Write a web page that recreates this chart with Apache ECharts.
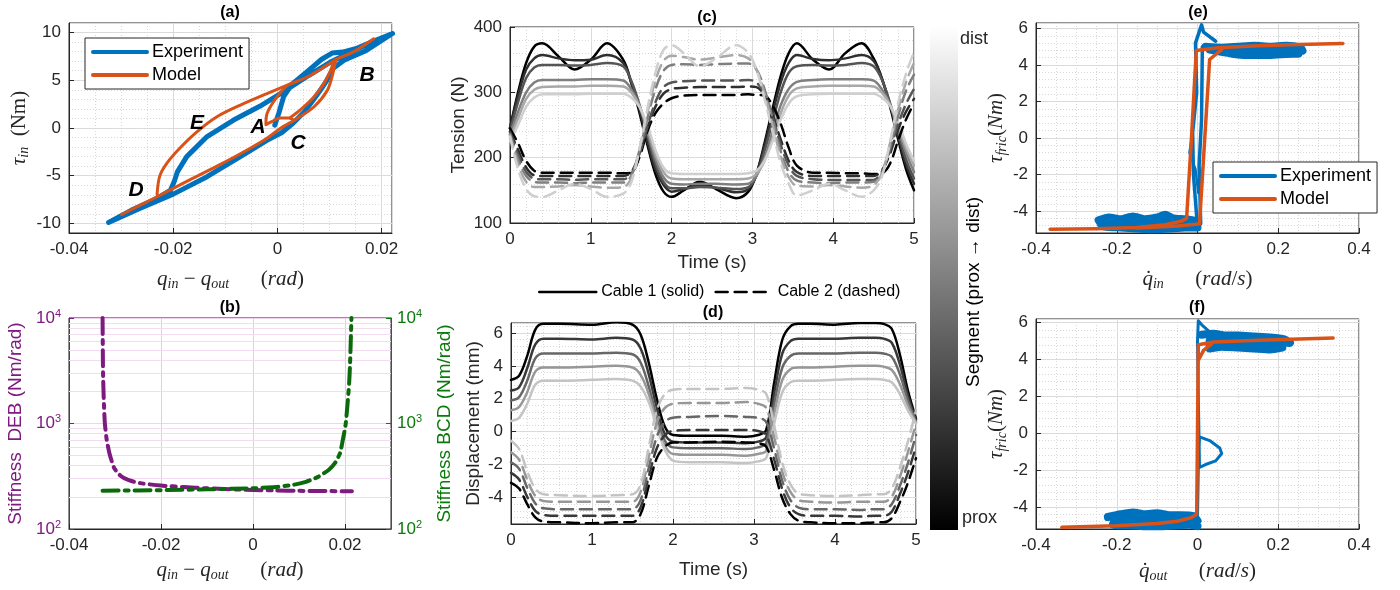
<!DOCTYPE html>
<html>
<head>
<meta charset="utf-8">
<script src="https://cdn.jsdelivr.net/npm/echarts@6/dist/echarts.min.js"></script>
<style>html,body{margin:0;padding:0;background:#fff}#main{width:1400px;height:590px}</style>
</head>
<body>
<div id="main"></div>
<script>
var SANS = 'Liberation Sans, Arial, sans-serif';
var SERIF = 'Liberation Serif, DejaVu Serif, serif';
var INK = '#262626';
var BLUE = '#0072BD', ORANGE = '#D95319';
var PURPLE = '#7E1A80', GREEN = '#0A7A0A';

// (a) hysteresis loop: [q_in - q_out, tau_in]
var expA = [[-0.0005,0.3],[0.0003,1.6],[0.0012,3.3],[0.0028,4.6],[0.0057,5.9],[0.0085,7.2],[0.0105,7.85],[0.0125,7.95],[0.015,8.3],[0.0185,9.1],[0.0221,9.9],
  [0.017,8.1],[0.0128,7.1],[0.0108,6.3],[0.0095,5.0],[0.0083,4.0],[0.007,3.0],[0.0052,1.7],[0.003,0.5],[0.0008,-0.5],[-0.002,-1.3],[-0.0071,-3.0],
  [-0.0135,-5.1],[-0.0199,-6.9],[-0.0263,-8.4],[-0.0324,-9.9],[-0.028,-8.6],[-0.0235,-7.5],[-0.0205,-6.5],[-0.0198,-5.6],[-0.0192,-4.6],
  [-0.0174,-3.0],[-0.0135,-0.9],[-0.0084,0.83],[-0.0033,2.3],[0.0012,3.8],[0.006,5.5],[0.0105,7.0],[0.015,8.2],[0.0221,9.9]];
var modelAUpper = [[-0.0231,-6.98],[-0.0226,-5.07],[-0.0212,-3.68],[-0.0187,-2.1],[-0.0154,-0.38],[-0.0116,1.18],[-0.0071,2.4],[-0.002,3.6],
  [0.0019,4.48],[0.0063,5.5],[0.0112,7.15],[0.0147,8.0],[0.0185,9.34]];
var modelALower = [[-0.0299,-9.06],[-0.0231,-7.2],[-0.0174,-5.6],[-0.0116,-4.0],[-0.0058,-2.3],[-0.002,-1.07],[0.0006,-0.03],[0.0038,1.0],
  [0.007,2.2],[0.0096,3.96],[0.0106,5.6],[0.0112,7.15]];
var modelAInner = [[0.0108,7.0],[0.0102,6.0],[0.0089,4.65],[0.007,3.26],[0.0044,1.9],[0.0025,1.1]];
var modelAHook = [[0.0019,4.48],[-0.0001,3.26],[-0.002,1.5],[-0.0022,0.35],[-0.001,0.7],[0.0005,1.05],[0.0022,1.05],[0.0032,0.8]];

// (b) stiffness, log scale
var stiffDEB = [[-0.0327,10000],[-0.0326,3000],[-0.0324,1500],[-0.0322,1000],[-0.0318,700],[-0.0312,520],[-0.0302,380],[-0.0288,320],[-0.027,290],
  [-0.0245,272],[-0.02,258],[-0.015,250],[-0.01,243],[-0.005,238],[0,234],[0.005,232],[0.01,230],[0.015,229],[0.0215,228]];
var stiffBCD = [[-0.0327,231],[-0.025,232],[-0.0187,234],[-0.01,238],[-0.0001,243],[0.005,250],[0.0085,261],[0.0115,280],[0.0142,313],[0.0165,365],
  [0.0178,420],[0.0189,520],[0.0195,690],[0.0201,950],[0.0205,1440],[0.0209,2400],[0.0211,3700],[0.0214,10000]];
var logMinor = [200,300,400,500,600,700,800,900,2000,3000,4000,5000,6000,7000,8000,9000];

// (c) tension, 6 segments prox -> dist
var tc = [0,0.1,0.2,0.3,0.4,0.6,0.8,1.0,1.2,1.4,1.5,1.6,1.7,1.8,1.9,2.0,2.15,2.35,2.55,2.8,2.95,3.05,3.15,3.25,3.35,3.45,3.55,3.75,3.95,4.15,4.35,4.5,4.6,4.7,4.8,4.9,5.0];
var cable1Tension = [
  [245,300,345,370,375,355,335,350,375,350,315,270,220,175,148,140,150,163,152,138,148,175,222,275,325,360,375,350,335,360,375,352,322,280,230,183,150],
  [245,295,335,352,357,352,349,350,357,345,315,275,225,182,158,148,152,158,154,147,152,175,218,268,315,345,357,351,349,352,357,348,322,283,235,190,160],
  [240,285,322,338,342,342,341,342,345,340,318,282,235,190,163,153,153,155,154,152,155,172,210,255,300,330,340,342,341,342,345,340,320,285,240,198,168],
  [235,270,300,315,319,319,319,320,320,318,305,280,240,198,170,160,159,160,160,159,160,172,200,240,280,305,316,319,320,320,320,318,305,282,245,208,178],
  [230,260,290,304,308,309,309,310,310,309,300,280,245,205,178,168,167,167,167,167,168,175,195,230,268,295,306,309,310,310,310,309,300,282,250,215,188],
  [225,250,278,292,297,297,297,298,298,298,292,278,250,212,185,176,175,175,175,175,176,180,195,225,258,283,294,297,298,298,298,298,292,280,255,222,195]
];
var cable2Tension = [
  [245,222,195,180,177,177,177,177,177,176,177,200,240,268,283,291,295,296,296,296,297,296,295,280,252,215,188,177,177,176,176,175,176,190,225,258,283],
  [240,212,185,173,172,172,172,172,172,172,178,205,245,278,298,305,307,308,308,308,309,308,295,265,228,195,178,172,172,172,172,172,180,205,242,270,290],
  [238,205,178,168,167,167,166,167,167,167,175,205,248,285,308,315,317,318,318,318,319,315,298,262,220,188,172,167,166,166,166,166,178,210,250,282,305],
  [236,198,172,163,162,162,161,162,162,162,172,210,260,305,333,342,343,342,343,344,344,335,305,260,210,178,165,162,161,162,162,163,175,215,262,302,327],
  [234,190,163,155,155,156,158,156,154,155,168,212,268,318,348,356,354,350,353,357,352,335,298,250,202,170,157,156,158,156,154,158,175,220,272,315,345],
  [232,182,152,141,140,150,160,152,140,145,162,212,275,330,365,372,360,340,352,372,360,335,290,240,192,160,142,150,160,150,140,150,170,222,282,328,362]
];
var grayC = ['#000000','#2f2f2f','#555555','#7f7f7f','#a8a8a8','#cfcfcf'];

// (d) displacement, 5 segments prox -> dist
var td = [0,0.1,0.2,0.3,0.4,0.6,1.0,1.3,1.5,1.6,1.7,1.8,1.9,2.0,2.2,2.6,2.9,3.05,3.15,3.25,3.35,3.45,3.55,3.7,4.0,4.3,4.5,4.6,4.7,4.8,4.9,5.0];
var cable1Disp = [
  [3.15,3.4,4.6,6.2,6.55,6.55,6.5,6.65,6.5,5.9,4.2,2.0,0.3,-0.2,-0.25,-0.25,-0.3,-0.2,0.1,3.0,5.6,6.4,6.55,6.55,6.5,6.6,6.6,6.55,6.25,4.7,2.5,0.8],
  [2.5,2.7,3.85,5.3,5.65,5.65,5.6,5.7,5.6,5.05,3.5,1.45,-0.15,-0.6,-0.65,-0.65,-0.7,-0.6,-0.35,2.35,4.75,5.5,5.65,5.65,5.65,5.7,5.7,5.65,5.4,4.1,2.2,0.7],
  [1.9,2.1,3.1,4.45,4.75,4.75,4.75,4.8,4.7,4.2,2.75,0.9,-0.55,-0.95,-1.0,-1.0,-1.05,-0.95,-0.7,1.7,3.9,4.6,4.75,4.75,4.75,4.8,4.8,4.75,4.55,3.5,1.9,0.6],
  [1.3,1.5,2.4,3.65,3.9,3.9,3.95,4.0,3.9,3.45,2.3,0.5,-0.85,-1.35,-1.4,-1.4,-1.45,-1.35,-1.15,1.1,3.15,3.8,3.9,3.9,3.95,4.0,4.0,3.95,3.75,2.9,1.6,0.55],
  [0.65,0.85,1.7,2.85,3.1,3.1,3.15,3.2,3.1,2.75,1.8,0.3,-1.1,-1.75,-1.85,-1.85,-1.9,-1.8,-1.6,0.5,2.4,3.0,3.1,3.1,3.15,3.2,3.2,3.15,3.0,2.3,1.3,0.5]
];
var cable2Disp = [
  [-3.1,-3.45,-4.4,-5.2,-5.45,-5.5,-5.55,-5.5,-5.5,-5.0,-3.3,-1.6,-0.9,-0.65,-0.65,-0.6,-0.65,-0.7,-0.9,-2.35,-4.05,-5.0,-5.4,-5.5,-5.55,-5.55,-5.5,-5.5,-5.25,-4.3,-3.1,-1.6],
  [-2.5,-2.9,-3.95,-4.8,-5.05,-5.1,-5.1,-5.1,-5.1,-4.6,-2.75,-1.0,-0.2,0.05,0.1,0.1,0.1,0.05,-0.2,-1.7,-3.5,-4.6,-5.0,-5.1,-5.1,-5.15,-5.1,-5.1,-4.85,-3.8,-2.5,-0.9],
  [-1.85,-2.25,-3.4,-4.35,-4.65,-4.7,-4.7,-4.7,-4.7,-4.15,-2.2,-0.3,0.6,0.85,0.9,0.95,0.9,0.85,0.6,-1.05,-3.0,-4.15,-4.6,-4.7,-4.7,-4.75,-4.7,-4.7,-4.4,-3.3,-1.9,-0.2],
  [-1.25,-1.7,-2.9,-3.9,-4.2,-4.25,-4.25,-4.25,-4.25,-3.65,-1.55,0.55,1.45,1.7,1.75,1.75,1.8,1.7,1.45,-0.35,-2.45,-3.65,-4.15,-4.25,-4.3,-4.25,-4.25,-4.25,-3.95,-2.75,-1.25,0.5],
  [-0.55,-1.05,-2.4,-3.45,-3.8,-3.85,-3.9,-3.85,-3.8,-3.2,-0.95,1.3,2.3,2.55,2.6,2.6,2.65,2.55,2.3,0.35,-1.9,-3.2,-3.75,-3.85,-3.9,-3.85,-3.8,-3.8,-3.45,-2.2,-0.6,1.3]
];
var grayD = ['#000000','#383838','#676767','#979797','#c4c4c4'];

// (e) friction vs input velocity: dense noisy clusters + thin traces
var expEClusterLow = [[-0.245,-4.5],[-0.22,-4.35],[-0.19,-4.45],[-0.16,-4.3],[-0.13,-4.45],[-0.1,-4.35],[-0.08,-4.2],[-0.06,-4.4],[-0.03,-4.45],[-0.005,-4.55],
  [0.0,-4.7],[-0.04,-4.7],[-0.08,-4.65],[-0.12,-4.7],[-0.16,-4.65],[-0.2,-4.7],[-0.24,-4.7],
  [-0.23,-4.85],[-0.19,-4.9],[-0.15,-4.95],[-0.11,-5.0],[-0.07,-4.95],[-0.03,-4.9],[0.0,-4.9]];
var expEClusterHigh = [[0.02,5.0],[0.06,4.95],[0.1,5.0],[0.14,5.05],[0.18,5.0],[0.22,5.05],[0.255,4.95],
  [0.26,4.78],[0.22,4.8],[0.18,4.75],[0.14,4.8],[0.1,4.78],[0.06,4.8],[0.03,4.85],
  [0.1,4.58],[0.14,4.55],[0.18,4.55],[0.22,4.6],[0.25,4.62]];
var expETrace1 = [[0.0,-4.9],[-0.01,-2.0],[-0.012,0.3],[-0.002,2.5],[-0.005,5.2],[0.01,6.2],[0.015,5.8],[0.045,5.3]];
var expETrace2 = [[0.012,5.0],[0.01,1.0],[0.004,-1.5],[0.008,-4.7]];
var expETrace3 = [[-0.012,0.3],[-0.02,-0.8],[-0.005,-1.7],[0.002,-3.0]];
var modelE1 = [[-0.365,-5.0],[-0.25,-4.97],[-0.15,-4.9],[-0.08,-4.75],[-0.04,-4.55],[-0.027,-4.4],[-0.015,0.0],[-0.003,4.8],[0.05,4.95],[0.15,5.05],[0.25,5.12],[0.36,5.18]];
var modelE2 = [[0.06,4.85],[0.03,4.3],[0.018,0.0],[0.005,-4.7],[-0.05,-4.82],[-0.15,-4.92]];

// (f) friction vs output velocity
var expFClusterLow = [[-0.222,-4.55],[-0.19,-4.4],[-0.16,-4.3],[-0.13,-4.4],[-0.1,-4.35],[-0.07,-4.45],[-0.04,-4.45],[-0.01,-4.5],
  [0.0,-4.75],[-0.04,-4.75],[-0.08,-4.7],[-0.12,-4.75],[-0.16,-4.7],[-0.2,-4.7],
  [-0.21,-4.95],[-0.17,-5.0],[-0.13,-5.05],[-0.09,-5.05],[-0.05,-5.0],[-0.02,-4.95],[0.0,-5.05]];
var expFClusterHigh = [[0.01,5.35],[0.04,5.4],[0.07,5.3],[0.1,5.3],[0.14,5.25],[0.18,5.2],[0.215,5.1],
  [0.229,4.9],[0.19,4.95],[0.15,4.95],[0.11,4.95],[0.07,5.0],[0.03,5.0],
  [0.03,4.6],[0.06,4.7],[0.1,4.65],[0.14,4.6],[0.18,4.55],[0.21,4.65]];
var expFTrace = [[0.0,-4.6],[0.002,-2.0],[0.005,-0.2],[0.03,-0.4],[0.055,-0.8],[0.06,-1.1],[0.045,-1.5],[0.02,-1.7],[0.005,-1.85],[0.002,2.0],
  [0.0,5.0],[0.002,6.1],[0.01,5.9],[0.03,5.5],[0.05,5.35]];
var modelF1 = [[-0.336,-5.11],[-0.2,-5.02],[-0.1,-4.9],[-0.05,-4.78],[-0.015,-4.58],[-0.002,-4.4],[0.0,0.0],[0.002,4.8],[0.04,4.95],[0.15,5.05],[0.336,5.17]];
var modelF2 = [[0.003,4.0],[0.015,4.5],[0.035,4.85]];

var chart = echarts.init(document.getElementById('main'));

var texRich = {
  m: { fontFamily: SERIF, fontStyle: 'italic', fontSize: 21, color: INK },
  n: { fontFamily: SERIF, fontSize: 21, color: INK },
  s: { fontFamily: SERIF, fontStyle: 'italic', fontSize: 14, color: INK, padding: [10, 0, 0, 0], verticalAlign: 'bottom' }
};
var supRich = function (c) {
  return {
    b: { fontFamily: SANS, fontSize: 17, color: c },
    p: { fontFamily: SANS, fontSize: 11, color: c, padding: [0, 0, 9, 0], verticalAlign: 'top' }
  };
};

function valAxis(o) {
  return {
    type: 'value', gridIndex: o.grid, min: o.min, max: o.max, interval: o.interval, splitNumber: o.splitNumber || 5,
    position: o.position,
    axisLine: { show: true, onZero: false, lineStyle: { color: INK, width: 1 } },
    axisTick: { show: true, inside: true, length: 5, lineStyle: { color: INK } },
    axisLabel: { color: INK, fontSize: 17, fontFamily: SANS, margin: 8, showMinLabel: !o.hideMin, showMaxLabel: !o.hideMax },
    splitLine: { show: true, lineStyle: { color: '#dcdcdc', width: 1 } },
    name: o.name, nameLocation: 'middle', nameGap: o.nameGap,
    nameTextStyle: o.nameStyle || { color: INK, fontSize: 19, fontFamily: SANS }
  };
}
function minorAxis(grid, min, max, step, pos) {
  return {
    type: 'value', gridIndex: grid, min: min, max: max, interval: step, position: pos,
    axisLine: { show: false }, axisTick: { show: false }, axisLabel: { show: false },
    splitLine: { show: true, lineStyle: { color: '#d8d8d8', width: 1, type: [1, 2] } }
  };
}
function line(name, data, xi, yi, color, width, type, smooth, z) {
  return {
    type: 'line', name: name, data: data, xAxisIndex: xi, yAxisIndex: yi, symbol: 'none',
    smooth: smooth || false, lineStyle: { color: color, width: width, type: type || 'solid', cap: 'round', join: 'round' },
    itemStyle: { color: color }, z: z || 3, animation: false
  };
}
function pair(ts, vs) { return ts.map(function (t, i) { return [t, vs[i]]; }); }

var texQ = '{m|q}{s|in}{n| − }{m|q}{s|out}{n|      (}{m|rad}{n|)}';
var texTauIn = '{m|τ}{s|in}{n|  (Nm)}';
var texTauFric = '{m|τ}{s|fric}{n|(}{m|Nm}{n|)}';

var xAxes = [
  valAxis({ grid: 0, min: -0.04, max: 0.022, interval: 0.02, hideMax: true, name: texQ, nameGap: 34, nameStyle: { rich: texRich } }),
  minorAxis(0, -0.04, 0.022, 0.005, 'top'),
  valAxis({ grid: 1, min: -0.04, max: 0.03, interval: 0.02, hideMax: true, name: texQ, nameGap: 29, nameStyle: { rich: texRich } }),
  valAxis({ grid: 2, min: 0, max: 5, interval: 1, name: 'Time (s)', nameGap: 30 }),
  minorAxis(2, 0, 5, 0.2, 'top'),
  valAxis({ grid: 3, min: 0, max: 5, interval: 1, name: 'Time (s)', nameGap: 36 }),
  minorAxis(3, 0, 5, 0.2, 'top'),
  valAxis({ grid: 4, min: -0.4, max: 0.4, interval: 0.2, name: '{m|q\u0307}{s|in}{n|      (}{m|rad}{n|/}{m|s}{n|)}', nameGap: 34, nameStyle: { rich: texRich } }),
  minorAxis(4, -0.4, 0.4, 0.05, 'top'),
  valAxis({ grid: 5, min: -0.4, max: 0.4, interval: 0.2, name: '{m|q\u0307}{s|out}{n|      (}{m|rad}{n|/}{m|s}{n|)}', nameGap: 30, nameStyle: { rich: texRich } }),
  minorAxis(5, -0.4, 0.4, 0.05, 'top')
];
xAxes[2].splitLine.lineStyle.color = '#d6d6d6';

var logLeft = {
  type: 'log', logBase: 10, gridIndex: 1, min: 100, max: 10000, position: 'left',
  axisLine: { show: true, onZero: false, lineStyle: { color: PURPLE, width: 1 } },
  axisTick: { show: true, inside: true, length: 5, lineStyle: { color: PURPLE } },
  axisLabel: { color: PURPLE, margin: 8, formatter: function (v) { return '{b|10}{p|' + Math.round(Math.log10(v)) + '}'; }, rich: supRich(PURPLE) },
  splitLine: { show: true, lineStyle: { color: '#f0d4ee', width: 1 } },
  name: 'Stiffness  DEB (Nm/rad)', nameLocation: 'middle', nameGap: 44,
  nameTextStyle: { color: PURPLE, fontSize: 19, fontFamily: SANS }
};
var logRight = {
  type: 'log', logBase: 10, gridIndex: 1, min: 100, max: 10000, position: 'right',
  axisLine: { show: true, onZero: false, lineStyle: { color: GREEN, width: 1 } },
  axisTick: { show: true, inside: true, length: 5, lineStyle: { color: GREEN } },
  axisLabel: { color: GREEN, margin: 6, formatter: function (v) { return '{b|10}{p|' + Math.round(Math.log10(v)) + '}'; }, rich: supRich(GREEN) },
  splitLine: { show: false },
  name: 'Stiffness BCD (Nm/rad)', nameLocation: 'middle', nameGap: 44,
  nameTextStyle: { color: GREEN, fontSize: 19, fontFamily: SANS }
};

var yAxes = [
  valAxis({ grid: 0, min: -11, max: 11, splitNumber: 5, hideMin: true, hideMax: true, name: texTauIn, nameGap: 38, nameStyle: { rich: texRich } }),
  minorAxis(0, -11, 11, 1, 'right'),
  logLeft,
  logRight,
  valAxis({ grid: 2, min: 100, max: 400, interval: 100, name: 'Tension (N)', nameGap: 42 }),
  minorAxis(2, 100, 400, 20, 'right'),
  valAxis({ grid: 3, min: -5.6, max: 6.6, splitNumber: 5, hideMin: true, hideMax: true, name: 'Displacement (mm)', nameGap: 28 }),
  minorAxis(3, -5.6, 6.6, 0.4, 'right'),
  valAxis({ grid: 4, min: -5.2, max: 6.3, splitNumber: 5, hideMin: true, hideMax: true, name: texTauFric, nameGap: 26, nameStyle: { rich: texRich } }),
  minorAxis(4, -5.2, 6.3, 0.4, 'right'),
  valAxis({ grid: 5, min: -5.2, max: 6.2, splitNumber: 5, hideMin: true, hideMax: true, name: texTauFric, nameGap: 26, nameStyle: { rich: texRich } }),
  minorAxis(5, -5.2, 6.2, 0.4, 'right')
];

var series = [];
// (a)
series.push(line('Experiment', expA, 0, 0, BLUE, 5));
series.push(line('Model', modelAUpper, 0, 0, ORANGE, 3, 'solid', 0.3, 4));
series.push(line('Model', modelALower, 0, 0, ORANGE, 3, 'solid', 0.3, 4));
series.push(line('Model', modelAInner, 0, 0, ORANGE, 3, 'solid', 0.3, 4));
series.push(line('Model', modelAHook, 0, 0, ORANGE, 3, 'solid', 0.3, 4));
// (b)
var minorLog = line('logGrid', [], 2, 2, '#f0d4ee', 1);
minorLog.z = 1;
minorLog.markLine = {
  silent: true, symbol: ['none', 'none'], z: 1, label: { show: false },
  lineStyle: { color: '#f3dcf1', width: 1, type: 'solid' },
  data: logMinor.map(function (v) { return { yAxis: v }; })
};
series.push(minorLog);
series.push(line('DEB', stiffDEB, 2, 2, PURPLE, 4, [16, 6, 4, 6], 0.2));
series.push(line('BCD', stiffBCD, 2, 3, '#0B6A0B', 4, [16, 6, 4, 6], 0.2));
// (c)
cable1Tension.forEach(function (v, i) {
  series.push(line(i === 0 ? 'Cable 1 (solid)' : 'c1t' + i, pair(tc, v), 3, 4, grayC[i], 2.5, 'solid', 0.35));
});
cable2Tension.forEach(function (v, i) {
  series.push(line(i === 0 ? 'Cable 2 (dashed)' : 'c2t' + i, pair(tc, v), 3, 4, grayC[i], 2.5, [12, 7], 0.35));
});
// (d)
cable1Disp.forEach(function (v, i) {
  series.push(line('c1d' + i, pair(td, v), 5, 6, grayD[i], 2.5, 'solid', 0.35));
});
cable2Disp.forEach(function (v, i) {
  series.push(line('c2d' + i, pair(td, v), 5, 6, grayD[i], 2.5, [12, 7], 0.35));
});
// (e)
series.push(line('Experiment', expEClusterLow, 7, 8, BLUE, 8, 'solid', 0.2));
series.push(line('Experiment', expEClusterHigh, 7, 8, BLUE, 8, 'solid', 0.2));
series.push(line('Experiment', expETrace1, 7, 8, BLUE, 3.5));
series.push(line('Experiment', expETrace2, 7, 8, BLUE, 3.5));
series.push(line('Experiment', expETrace3, 7, 8, BLUE, 2.5));
series.push(line('Model', modelE1, 7, 8, ORANGE, 3.5, 'solid', false, 4));
series.push(line('Model', modelE2, 7, 8, ORANGE, 3.5, 'solid', false, 4));
// (f)
series.push(line('Experiment', expFClusterLow, 9, 10, BLUE, 8, 'solid', 0.2));
series.push(line('Experiment', expFClusterHigh, 9, 10, BLUE, 8, 'solid', 0.2));
series.push(line('Experiment', expFTrace, 9, 10, BLUE, 3));
series.push(line('Model', modelF1, 9, 10, ORANGE, 3.5, 'solid', false, 4));
series.push(line('Model', modelF2, 9, 10, ORANGE, 3.5, 'solid', false, 4));

function gridBox(l, t, w, h) {
  return { left: l, top: t, width: w, height: h, show: true, borderColor: INK, borderWidth: 1, backgroundColor: 'transparent', outerBoundsMode: 'none' };
}
function boxedLegend(l, t) {
  return {
    data: ['Experiment', 'Model'], orient: 'vertical', left: l, top: t, itemWidth: 54, itemHeight: 12, itemGap: 5,
    padding: [5, 6], borderColor: INK, borderWidth: 1, backgroundColor: '#fff', z: 10, selectedMode: false,
    itemStyle: { opacity: 0, borderWidth: 0 },
    lineStyle: { width: 4 }, textStyle: { color: '#000', fontSize: 18, fontFamily: SANS }
  };
}
function txt(x, y, s, font, extra) {
  var el = { type: 'text', x: x, y: y, silent: true, z: 20,
    style: { text: s, font: font, fill: '#000', align: 'center', verticalAlign: 'middle', textAlign: 'center', textVerticalAlign: 'middle' } };
  if (extra) { for (var k in extra) el[k] = extra[k]; }
  return el;
}
var LETTER = 'italic bold 21px ' + SANS;
var TITLE = 'bold 16px ' + SANS;

var option = {
  animation: false,
  backgroundColor: '#fff',
  grid: [
    gridBox(69, 23, 323, 210),
    gridBox(69, 318, 322, 211),
    gridBox(510, 27, 404, 196),
    gridBox(511, 323, 405, 201),
    gridBox(1036, 23, 323, 210),
    gridBox(1036, 319, 323, 210)
  ],
  xAxis: xAxes,
  yAxis: yAxes,
  legend: [
    boxedLegend(85, 38),
    boxedLegend(1213, 162),
    {
      data: ['Cable 1 (solid)', 'Cable 2 (dashed)'], left: 533, top: 279, itemWidth: 57, itemHeight: 10, itemGap: 10,
      selectedMode: false, itemStyle: { opacity: 0, borderWidth: 0 }, lineStyle: { width: 2.5 },
      textStyle: { color: '#000', fontSize: 16, fontFamily: SANS }
    }
  ],
  series: series,
  graphic: [
    txt(230, 13, '(a)', TITLE), txt(230, 308, '(b)', TITLE), txt(707, 18, '(c)', TITLE),
    txt(713, 313, '(d)', TITLE), txt(1198, 13, '(e)', TITLE), txt(1197, 308, '(f)', TITLE),
    txt(367, 75, 'B', LETTER), txt(197, 123, 'E', LETTER), txt(258, 127, 'A', LETTER),
    txt(298, 143, 'C', LETTER), txt(136, 190, 'D', LETTER),
    {
      type: 'rect', silent: true, shape: { x: 930, y: 25, width: 28, height: 505 },
      style: { fill: new echarts.graphic.LinearGradient(0, 0, 0, 1, [{ offset: 0, color: '#ffffff' }, { offset: 1, color: '#000000' }]) }
    },
    txt(960, 39, 'dist', '18px ' + SANS, { style: { text: 'dist', font: '18px ' + SANS, fill: INK, align: 'left', verticalAlign: 'middle', textAlign: 'left', textVerticalAlign: 'middle' } }),
    txt(962, 518, 'prox', '18px ' + SANS, { style: { text: 'prox', font: '18px ' + SANS, fill: INK, align: 'left', verticalAlign: 'middle', textAlign: 'left', textVerticalAlign: 'middle' } }),
    txt(974, 292, 'Segment (prox \u2192 dist)', '19px ' + SANS, { rotation: Math.PI / 2 })
  ]
};
chart.setOption(option);
</script>
</body>
</html>
